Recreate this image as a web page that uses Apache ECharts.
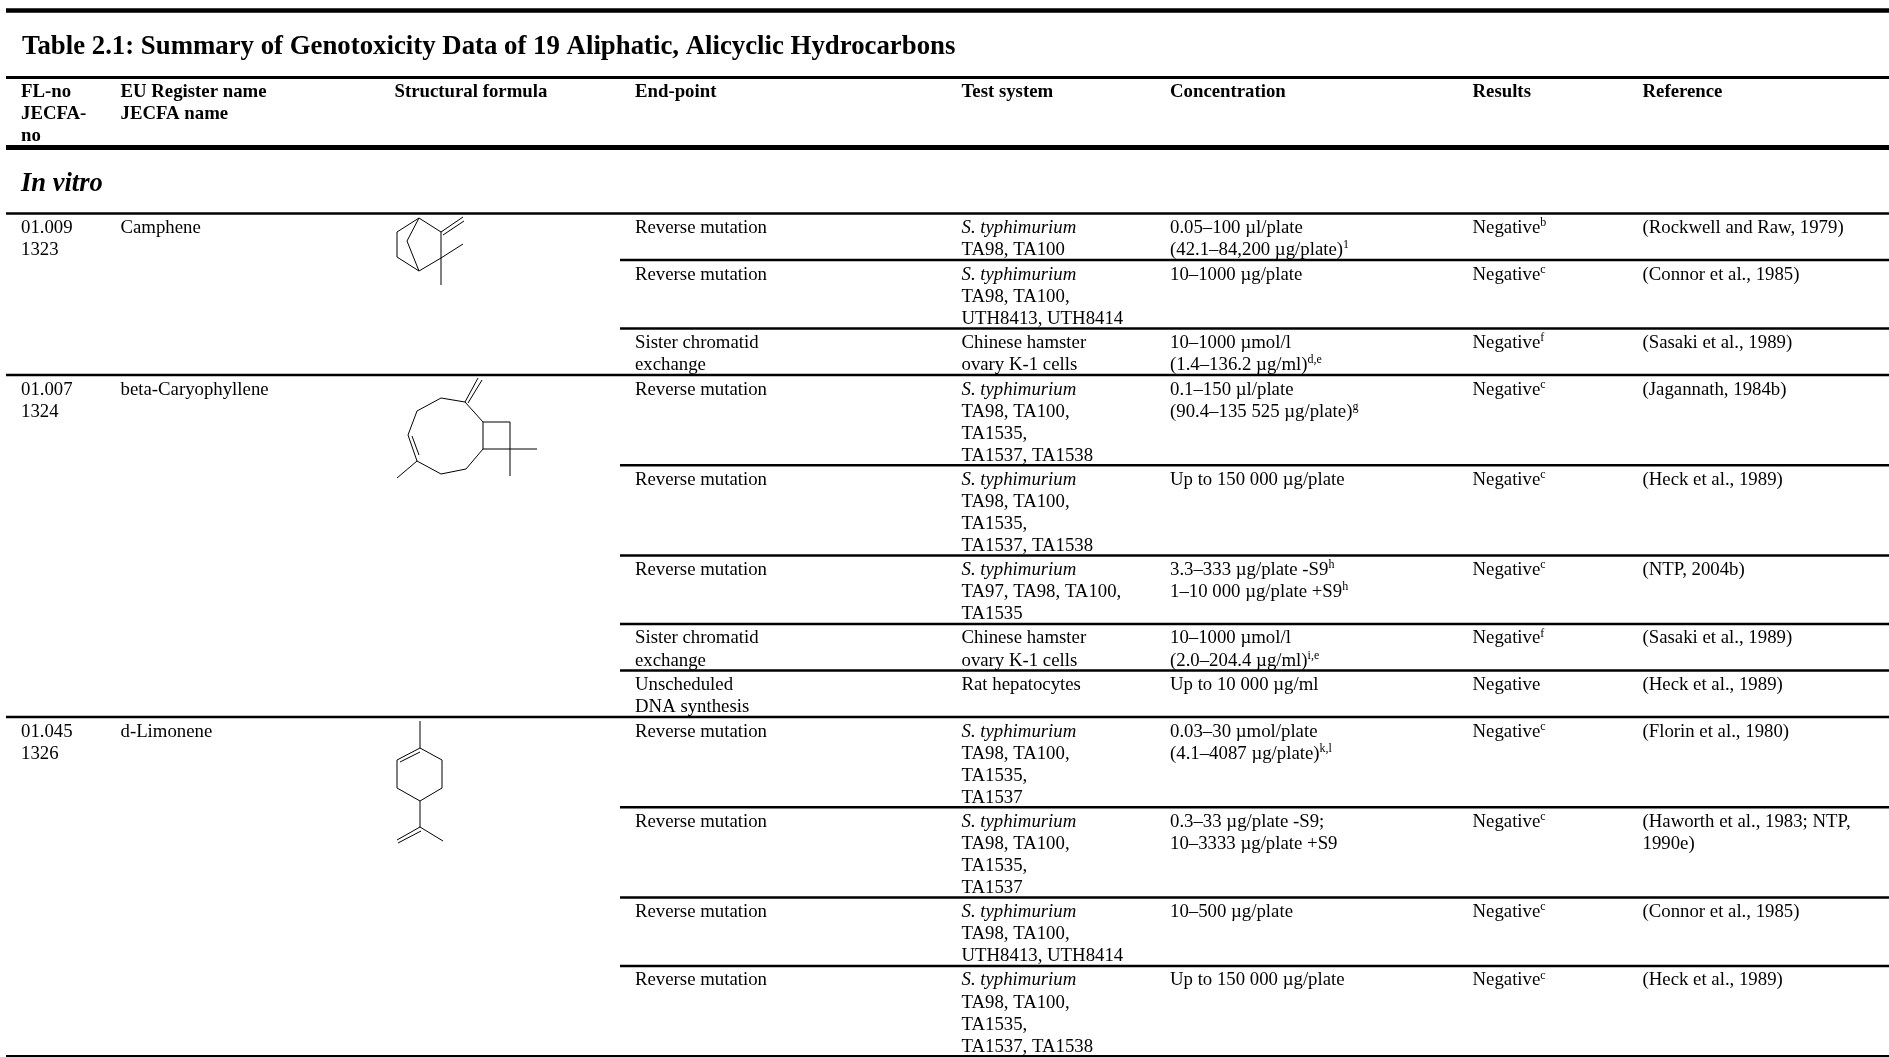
<!DOCTYPE html>
<html>
<head>
<meta charset="utf-8">
<title>Table 2.1</title>
<style>
  html, body { margin: 0; padding: 0; background: #fff; }
  #main { width: 1889px; height: 1057px; }
</style>
</head>
<body>
<div id="main"></div>
<script src="https://cdn.jsdelivr.net/npm/echarts@6/dist/echarts.min.js"></script>
<script type="text/javascript">
// table content
var tableTitle = 'Table 2.1: Summary of Genotoxicity Data of 19 Aliphatic, Alicyclic Hydrocarbons';
var sectionTitle = 'In vitro';
var headerLabels = [
  ['FL-no', 'JECFA-', 'no'],
  ['EU Register name', 'JECFA name'],
  ['Structural formula'],
  ['End-point'],
  ['Test system'],
  ['Concentration'],
  ['Results'],
  ['Reference']
];
var flNumbers = [['01.009', '1323'], ['01.007', '1324'], ['01.045', '1326']];
var substances = ['Camphene', 'beta-Caryophyllene', 'd-Limonene'];
var groupSizes = [3, 5, 4];
var endPoints = [
  ['Reverse mutation'],
  ['Reverse mutation'],
  ['Sister chromatid', 'exchange'],
  ['Reverse mutation'],
  ['Reverse mutation'],
  ['Reverse mutation'],
  ['Sister chromatid', 'exchange'],
  ['Unscheduled', 'DNA synthesis'],
  ['Reverse mutation'],
  ['Reverse mutation'],
  ['Reverse mutation'],
  ['Reverse mutation']
];
var testSystems = [
  ['S. typhimurium', 'TA98, TA100'],
  ['S. typhimurium', 'TA98, TA100,', 'UTH8413, UTH8414'],
  ['Chinese hamster', 'ovary K-1 cells'],
  ['S. typhimurium', 'TA98, TA100,', 'TA1535,', 'TA1537, TA1538'],
  ['S. typhimurium', 'TA98, TA100,', 'TA1535,', 'TA1537, TA1538'],
  ['S. typhimurium', 'TA97, TA98, TA100,', 'TA1535'],
  ['Chinese hamster', 'ovary K-1 cells'],
  ['Rat hepatocytes'],
  ['S. typhimurium', 'TA98, TA100,', 'TA1535,', 'TA1537'],
  ['S. typhimurium', 'TA98, TA100,', 'TA1535,', 'TA1537'],
  ['S. typhimurium', 'TA98, TA100,', 'UTH8413, UTH8414'],
  ['S. typhimurium', 'TA98, TA100,', 'TA1535,', 'TA1537, TA1538']
];
var concentrations = [
  ['0.05–100 µl/plate', '(42.1–84,200 µg/plate)^1'],
  ['10–1000 µg/plate'],
  ['10–1000 µmol/l', '(1.4–136.2 µg/ml)^d,e'],
  ['0.1–150 µl/plate', '(90.4–135 525 µg/plate)^g'],
  ['Up to 150 000 µg/plate'],
  ['3.3–333 µg/plate -S9^h', '1–10 000 µg/plate +S9^h'],
  ['10–1000 µmol/l', '(2.0–204.4 µg/ml)^i,e'],
  ['Up to 10 000 µg/ml'],
  ['0.03–30 µmol/plate', '(4.1–4087 µg/plate)^k,l'],
  ['0.3–33 µg/plate -S9;', '10–3333 µg/plate +S9'],
  ['10–500 µg/plate'],
  ['Up to 150 000 µg/plate']
];
var results = [
  'Negative^b', 'Negative^c', 'Negative^f',
  'Negative^c', 'Negative^c', 'Negative^c', 'Negative^f', 'Negative',
  'Negative^c', 'Negative^c', 'Negative^c', 'Negative^c'
];
var references = [
  ['(Rockwell and Raw, 1979)'],
  ['(Connor et al., 1985)'],
  ['(Sasaki et al., 1989)'],
  ['(Jagannath, 1984b)'],
  ['(Heck et al., 1989)'],
  ['(NTP, 2004b)'],
  ['(Sasaki et al., 1989)'],
  ['(Heck et al., 1989)'],
  ['(Florin et al., 1980)'],
  ['(Haworth et al., 1983; NTP,', '1990e)'],
  ['(Connor et al., 1985)'],
  ['(Heck et al., 1989)']
];

// structural formulas, bonds as x1,y1,x2,y2
var camphene = [
  [419, 218, 397, 232], [397, 232, 397, 257], [397, 257, 419, 271],
  [419, 271, 441, 258], [441, 258, 441, 232], [441, 232, 419, 218],
  [419, 218, 407, 241], [407, 241, 419, 271],
  [441, 232, 463, 217], [443, 235, 464, 221],
  [441, 258, 463, 244], [441, 258, 441, 285]
];
var caryophyllene = [
  [465, 402, 441, 398], [441, 398, 417, 411], [417, 411, 408, 435],
  [408, 435, 417, 461], [417, 461, 441, 474], [441, 474, 466, 469],
  [466, 469, 483, 449], [483, 449, 483, 422], [483, 422, 465, 402],
  [483, 422, 510, 422], [510, 422, 510, 449], [510, 449, 483, 449],
  [510, 449, 537, 449], [510, 449, 510, 476],
  [417, 461, 397, 478], [412, 436, 419, 455],
  [465, 402, 478, 378], [468, 403, 482, 380]
];
var limonene = [
  [420, 721, 420, 748], [420, 748, 442, 760], [442, 760, 442, 788],
  [442, 788, 420, 801], [420, 801, 397, 788], [397, 788, 397, 760],
  [397, 760, 420, 748], [400, 762, 420, 752],
  [420, 801, 420, 827], [420, 827, 443, 841],
  [420, 827, 397, 840], [421, 831, 398, 843]
];

// layout of the page, in pixels of the value axes
var columnX = [21, 120.5, 394.5, 635, 961.5, 1170, 1472.5, 1642.5];
var subRuleStart = 620;
var leftEdge = 6;
var pageRight = 1889;
var firstRowTop = 213.5;
var rowLinePitch = 21.8;
var textLinePitch = 22.1;
var rowPad = 3;
var textOffset = 3.6;
var bodyFont = 18.8;

function richText(str, kind) {
  var key = kind === 'italic' ? 'i' : 'n';
  var p = str.indexOf('^');
  if (p < 0) return '{' + key + '|' + str + '}';
  return '{' + key + '|' + str.slice(0, p) + '}{s|' + str.slice(p + 1) + '}';
}

var rich = {
  n: { fontFamily: 'Liberation Serif', fontSize: bodyFont, lineHeight: 22, fill: '#000' },
  i: { fontFamily: 'Liberation Serif', fontSize: bodyFont, fontStyle: 'italic', lineHeight: 22, fill: '#000' },
  s: { fontFamily: 'Liberation Serif', fontSize: 12, lineHeight: 22, verticalAlign: 'top', fill: '#000' }
};

var ruleRows = [];
var textRows = [];

function addRule(x1, x2, y, w) { ruleRows.push([x1, y, x2, y, w]); }
function addText(x, y, str, kind) { textRows.push({ value: [x, y], str: str, kind: kind }); }
function addLines(x, y, lines, kind) {
  lines.forEach(function (s, i) {
    addText(x, y + i * textLinePitch, s, s.indexOf('S. ') === 0 ? 'italic' : kind);
  });
}

addRule(leftEdge, pageRight, 10.5, 4.5);
addText(22, 34, tableTitle, 'title');
addRule(leftEdge, pageRight, 77.5, 3);
headerLabels.forEach(function (lines, i) {
  lines.forEach(function (s, k) {
    addText(columnX[i], 83 + k * 22, s, 'head');
  });
});
addRule(leftEdge, pageRight, 147.5, 5);
addText(21, 171, sectionTitle, 'section');

var rowY = firstRowTop;
var rowIndex = 0;
groupSizes.forEach(function (size, g) {
  addRule(leftEdge, pageRight, rowY, 2.5);
  addLines(columnX[0], rowY + textOffset, flNumbers[g], 'body');
  addLines(columnX[1], rowY + textOffset, [substances[g]], 'body');
  for (var k = 0; k < size; k++) {
    var lineCount = Math.max(endPoints[rowIndex].length, testSystems[rowIndex].length,
      concentrations[rowIndex].length, references[rowIndex].length);
    if (k > 0) addRule(subRuleStart, pageRight, rowY, 2.5);
    addLines(columnX[3], rowY + textOffset, endPoints[rowIndex], 'body');
    addLines(columnX[4], rowY + textOffset, testSystems[rowIndex], 'body');
    addLines(columnX[5], rowY + textOffset, concentrations[rowIndex], 'body');
    addLines(columnX[6], rowY + textOffset, [results[rowIndex]], 'body');
    addLines(columnX[7], rowY + textOffset, references[rowIndex], 'body');
    rowY += lineCount * rowLinePitch + rowPad;
    rowIndex++;
  }
});
addRule(leftEdge, pageRight, rowY, 2);

var bondRows = camphene.concat(caryophyllene, limonene);

function renderSegment(params, api) {
  var a = api.coord([api.value(0), api.value(1)]);
  var b = api.coord([api.value(2), api.value(3)]);
  return {
    type: 'line',
    shape: { x1: a[0], y1: a[1], x2: b[0], y2: b[1] },
    style: { stroke: '#000', lineWidth: api.value(4) || 1 }
  };
}

var textStyles = {
  head: { fontSize: bodyFont, fontWeight: 'bold' },
  title: { fontSize: 26.8, fontWeight: 'bold' },
  section: { fontSize: 26.5, fontWeight: 'bold', fontStyle: 'italic' }
};

function renderText(params, api) {
  var row = textRows[params.dataIndex];
  var pos = api.coord([api.value(0), api.value(1)]);
  var style = {
    x: pos[0],
    y: pos[1],
    text: row.str,
    fontFamily: 'Liberation Serif',
    fill: '#000',
    textAlign: 'left',
    textVerticalAlign: 'top'
  };
  var st = textStyles[row.kind];
  if (st) {
    style.fontSize = st.fontSize;
    style.fontWeight = st.fontWeight;
    style.fontStyle = st.fontStyle || 'normal';
  } else {
    style.text = richText(row.str, row.kind);
    style.rich = rich;
  }
  return { type: 'text', style: style };
}

var chart = echarts.init(document.getElementById('main'), null, { renderer: 'canvas' });
chart.setOption({
  animation: false,
  backgroundColor: '#fff',
  grid: { left: 0, right: 0, top: 0, bottom: 0 },
  xAxis: { type: 'value', min: 0, max: 1889, show: false },
  yAxis: { type: 'value', min: 0, max: 1057, inverse: true, show: false },
  series: [
    { type: 'custom', name: 'rules', silent: true, clip: false, renderItem: renderSegment, data: ruleRows },
    { type: 'custom', name: 'bonds', silent: true, clip: false, renderItem: renderSegment, data: bondRows },
    { type: 'custom', name: 'text', silent: true, clip: false, renderItem: renderText, data: textRows }
  ]
});
</script>
</body>
</html>
